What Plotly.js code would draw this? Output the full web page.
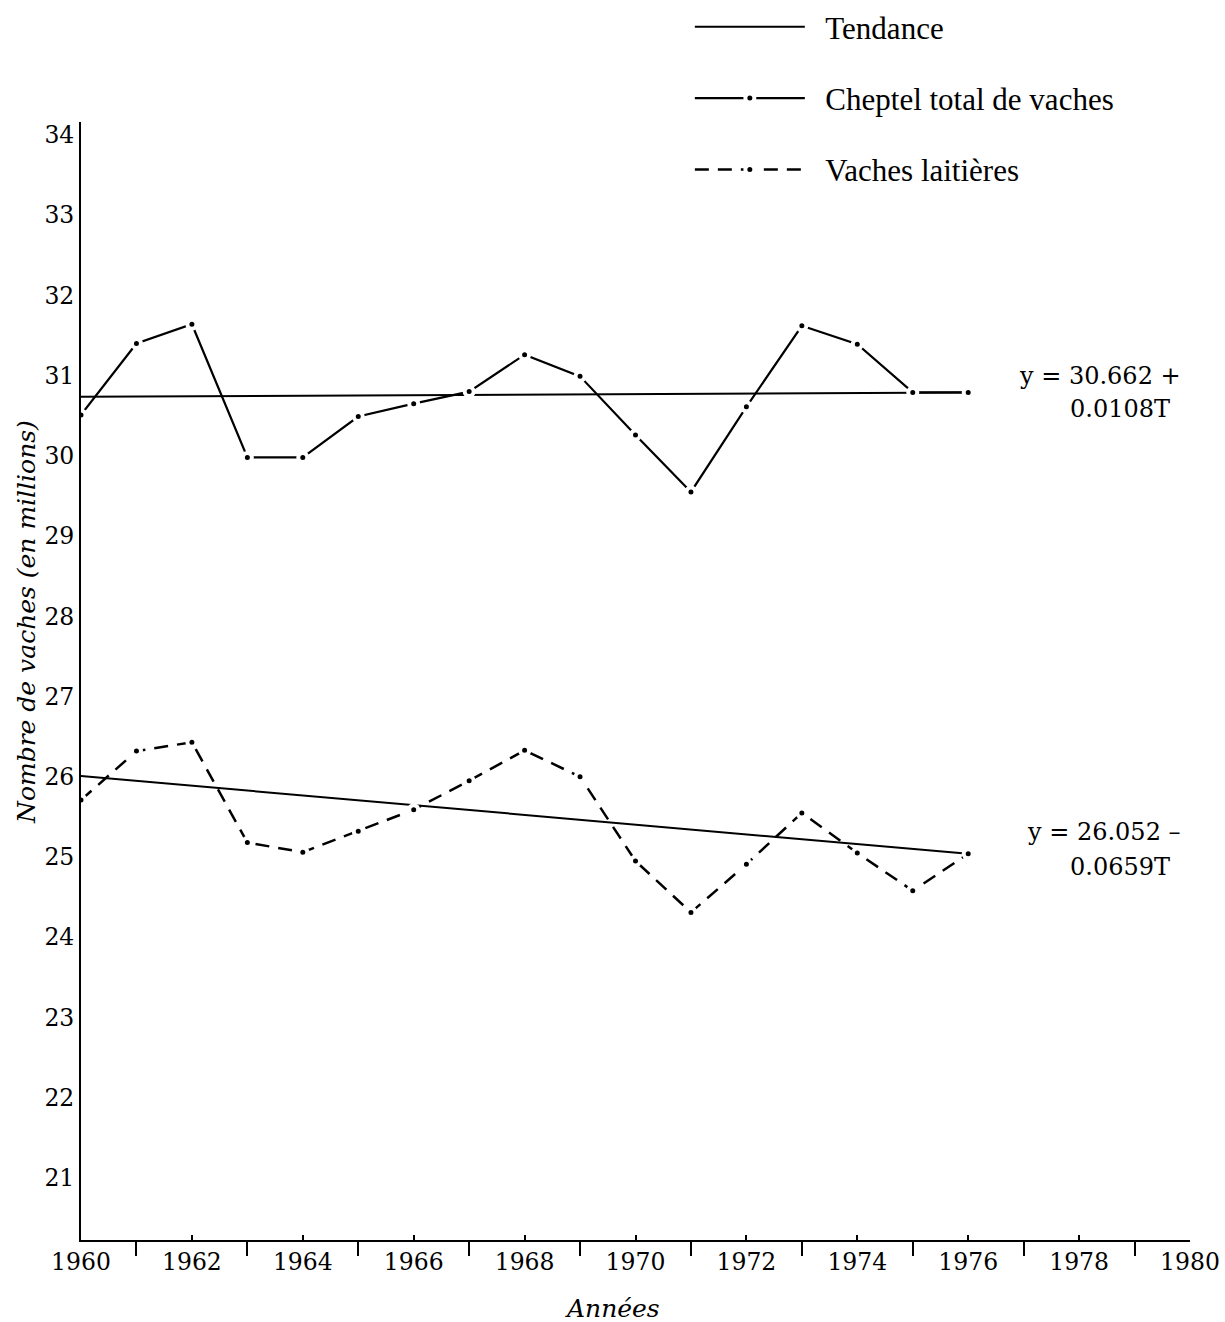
<!DOCTYPE html>
<html><head><meta charset="utf-8">
<script src="https://cdn.plot.ly/plotly-3.0.1.min.js"></script>
<style>html,body{margin:0;padding:0;background:#fff}</style>
</head><body><div id="chart" style="width:1225px;height:1322px"></div>
<script>
const years = [1960,1961,1962,1963,1964,1965,1966,1967,1968,1969,1970,1971,1972,1973,1974,1975,1976];
const totalCows = [30.51,31.40,31.64,29.98,29.98,30.49,30.65,30.80,31.26,30.99,30.26,29.55,30.61,31.62,31.39,30.79,30.79];
const dairyCows = [25.71,26.32,26.43,25.18,25.06,25.32,25.59,25.95,26.33,26.00,24.95,24.31,24.91,25.55,25.05,24.58,25.04];
const trendYears = [1960, 1976];
const totalTrend = [30.735, 30.79];
const dairyTrend = [26.01, 25.04];
const legendNames = ['Tendance', 'Cheptel total de vaches', 'Vaches laitières'];
const totalEquation = ['y = 30.662 +', '0.0108T'];
const dairyEquation = ['y = 26.052 –', '0.0659T'];
const yTickVals = [21,22,23,24,25,26,27,28,29,30,31,32,33,34];
const xTitle = 'Années';
const yTitle = 'Nombre de vaches (en millions)';

const serif = 'DejaVu Serif, serif';
const dotMarker = {size: 9, color: 'black', line: {color: 'white', width: 4}};
const pad = '&nbsp;&nbsp;';

const traces = [
  {x: trendYears, y: totalTrend, mode: 'lines', name: pad + legendNames[0], legendgroup: 'g1',
   line: {color: 'black', width: 2}, showlegend: true},
  {x: trendYears, y: dairyTrend, mode: 'lines', name: pad + legendNames[0], legendgroup: 'g1',
   line: {color: 'black', width: 2}, showlegend: false},
  {x: years, y: totalCows, mode: 'lines+markers', name: pad + legendNames[1], legendgroup: 'g2',
   line: {color: 'black', width: 2.2}, marker: dotMarker},
  {x: years, y: dairyCows, mode: 'lines+markers', name: pad + legendNames[2], legendgroup: 'g3',
   line: {color: 'black', width: 2.5, dash: '14px,9px'}, marker: dotMarker}
];

const eqFont = {family: serif, size: 24, color: 'black'};
const titleFont = {family: serif, size: 25, color: 'black', style: 'italic'};
const layout = {
  width: 1225, height: 1322,
  margin: {l: 81, r: 35, t: 122, b: 82, autoexpand: false},
  paper_bgcolor: 'white', plot_bgcolor: 'white',
  showlegend: true,
  legend: {x: 0.549, xanchor: 'left', y: 1.109, yanchor: 'top',
    font: {family: 'Liberation Serif, serif', size: 31, color: 'black'},
    itemwidth: 110, tracegroupgap: 28, traceorder: 'grouped', bgcolor: 'rgba(0,0,0,0)'},
  xaxis: {range: [1960, 1980], tickmode: 'linear', tick0: 1960, dtick: 2,
    ticks: 'inside', ticklen: 5, tickwidth: 2, tickcolor: 'black',
    minor: {tickmode: 'linear', tick0: 1961, dtick: 2, ticks: 'outside', ticklen: 14, tickwidth: 2, tickcolor: 'black'},
    showline: true, linewidth: 2, linecolor: 'black', showgrid: false, zeroline: false,
    tickfont: {family: serif, size: 23.5, color: 'black'}},
  yaxis: {range: [20.227, 34.16], tickmode: 'array', tickvals: yTickVals,
    ticks: '', showline: true, linewidth: 2, linecolor: 'black', showgrid: false, zeroline: false,
    tickfont: {family: serif, size: 23.5, color: 'black'}},
  annotations: [
    {xref: 'x', yref: 'y', x: 1979.87, y: 30.99, xanchor: 'right', yanchor: 'middle', text: totalEquation[0], showarrow: false, font: eqFont},
    {xref: 'x', yref: 'y', x: 1979.67, y: 30.58, xanchor: 'right', yanchor: 'middle', text: totalEquation[1], showarrow: false, font: eqFont},
    {xref: 'x', yref: 'y', x: 1979.87, y: 25.31, xanchor: 'right', yanchor: 'middle', text: dairyEquation[0], showarrow: false, font: eqFont},
    {xref: 'x', yref: 'y', x: 1979.67, y: 24.87, xanchor: 'right', yanchor: 'middle', text: dairyEquation[1], showarrow: false, font: eqFont},
    {xref: 'paper', yref: 'paper', x: -0.049, y: 0.5525, xanchor: 'center', yanchor: 'middle', textangle: -90,
     text: yTitle, showarrow: false, font: titleFont},
    {xref: 'paper', yref: 'paper', x: 0.479, y: -0.061, xanchor: 'center', yanchor: 'middle',
     text: xTitle, showarrow: false, font: titleFont}
  ]
};
Plotly.newPlot('chart', traces, layout, {displayModeBar: false, staticPlot: true});
</script></body></html>
